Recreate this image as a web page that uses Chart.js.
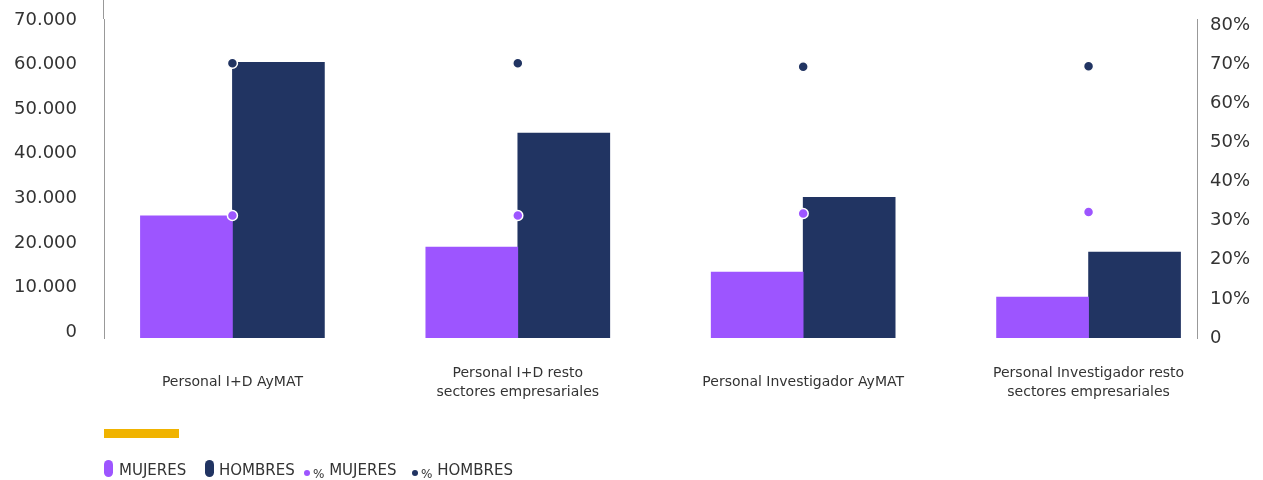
<!DOCTYPE html>
<html>
<head>
<meta charset="utf-8">
<script src="https://cdn.jsdelivr.net/npm/chart.js@4.4.1/dist/chart.umd.min.js"></script>
<style>
  body { margin: 0; background: #fff; }
  .wrap { position: relative; width: 1263px; height: 480px; }
  canvas { position: absolute; left: 0; top: 0; }
  .raya { position: absolute; left: 104px; top: 429px; width: 75px; height: 9px; background: #f0b300; }
  .ley { position: absolute; font-family: "DejaVu Sans", sans-serif; font-size: 15px; line-height: 15px; color: #333; top: 463px; white-space: nowrap; }
  .ley small { font-size: 12px; position: relative; top: 3px; }
  .pill { position: absolute; top: 460px; width: 9px; height: 17px; border-radius: 5px; }
  .dot { position: absolute; top: 470px; width: 6px; height: 6px; border-radius: 50%; }
</style>
</head>
<body>
<div class="wrap">
  <canvas id="grafico" width="1263" height="480"></canvas>
  <div class="raya"></div>
  <div class="pill" style="left:104px;background:#9d55ff"></div>
  <span class="ley" style="left:119px">MUJERES</span>
  <div class="pill" style="left:205px;background:#213462"></div>
  <span class="ley" style="left:219px">HOMBRES</span>
  <div class="dot" style="left:304px;background:#9d55ff"></div>
  <span class="ley" style="left:313px"><small>%</small> MUJERES</span>
  <div class="dot" style="left:412px;background:#213462"></div>
  <span class="ley" style="left:421px"><small>%</small> HOMBRES</span>
</div>
<script>
// datos
const categorias = [
  ['Personal I+D AyMAT'],
  ['Personal I+D resto', 'sectores empresariales'],
  ['Personal Investigador AyMAT'],
  ['Personal Investigador resto', 'sectores empresariales']
];
const mujeres = [27400, 20400, 14800, 9200];
const hombres = [61900, 46000, 31600, 19300];
const pctMujeres = [31.3, 31.3, 31.8, 32.2];
const pctHombres = [70.2, 70.2, 69.3, 69.4];
const ticksIzq = [0, 10000, 20000, 30000, 40000, 50000, 60000, 70000];
const ticksDer = [0, 10, 20, 30, 40, 50, 60, 70, 80];

const morado = '#9d55ff';
const azul = '#213462';
const gris = '#999';

const puntos = arr => arr.map((v, i) => ({ x: i, y: v }));
const miles = v => String(v).replace(/\B(?=(\d{3})+(?!\d))/g, '.');

// la línea del eje izquierdo sube hasta el borde superior
const ejeArriba = {
  id: 'ejeArriba',
  afterDraw(chart) {
    const c = chart.ctx, x = Math.round(chart.scales.y.right) - 0.5;
    c.save();
    c.strokeStyle = gris;
    c.lineWidth = 1;
    c.beginPath();
    c.moveTo(x, 0);
    c.lineTo(x, chart.chartArea.top);
    c.stroke();
    c.restore();
  }
};

new Chart(document.getElementById('grafico'), {
  type: 'bar',
  data: {
    datasets: [
      { label: 'MUJERES', data: puntos(mujeres), backgroundColor: morado, barThickness: 92, yAxisID: 'y', order: 2 },
      { label: 'HOMBRES', data: puntos(hombres), backgroundColor: azul, barThickness: 92, yAxisID: 'y', order: 2 },
      { type: 'line', label: '% MUJERES', data: puntos(pctMujeres), yAxisID: 'y1', showLine: false,
        pointRadius: 5, pointBackgroundColor: morado, pointBorderColor: '#fff', pointBorderWidth: 1.5, order: 1 },
      { type: 'line', label: '% HOMBRES', data: puntos(pctHombres), yAxisID: 'y1', showLine: false,
        pointRadius: 5, pointBackgroundColor: azul, pointBorderColor: '#fff', pointBorderWidth: 1.5, order: 1 }
    ]
  },
  options: {
    responsive: false,
    animation: false,
    layout: { padding: { top: 19, bottom: 0, left: 0, right: 0 } },
    scales: {
      x: {
        type: 'linear',
        min: -0.45,
        max: 3.38,
        offset: false,
        grid: { display: false, drawTicks: false, offset: false },
        border: { display: false },
        afterBuildTicks: s => { s.ticks = categorias.map((c, i) => ({ value: i })); },
        afterFit: s => { s.height = 142; },
        ticks: {
          autoSkip: false,
          maxRotation: 0,
          padding: 35,
          crossAlign: 'center',
          color: '#333',
          font: { family: 'DejaVu Sans', size: 14, lineHeight: 1.36 },
          callback: v => categorias[v]
        }
      },
      y: {
        position: 'left',
        min: 0,
        max: 71600,
        grid: { display: false, drawTicks: false },
        border: { display: true, color: gris, width: 1 },
        afterBuildTicks: s => { s.ticks = ticksIzq.map(v => ({ value: v })); },
        afterFit: s => { s.width = 104; s.paddingTop = 0; s.paddingBottom = 0; },
        ticks: {
          padding: 27,
          labelOffset: -6,
          color: '#333',
          font: { family: 'DejaVu Sans', size: 18 },
          callback: v => miles(v)
        }
      },
      y1: {
        position: 'right',
        min: 0,
        max: 81.5,
        grid: { display: false, drawTicks: false },
        border: { display: true, color: gris, width: 1 },
        afterBuildTicks: s => { s.ticks = ticksDer.map(v => ({ value: v })); },
        afterFit: s => { s.width = 66; s.paddingTop = 0; s.paddingBottom = 0; },
        ticks: {
          padding: 13,
          color: '#333',
          font: { family: 'DejaVu Sans', size: 18 },
          callback: v => v === 0 ? '0' : v + '%'
        }
      }
    },
    plugins: {
      legend: { display: false },
      tooltip: { enabled: false }
    }
  },
  plugins: [ejeArriba]
});
</script>
</body>
</html>
